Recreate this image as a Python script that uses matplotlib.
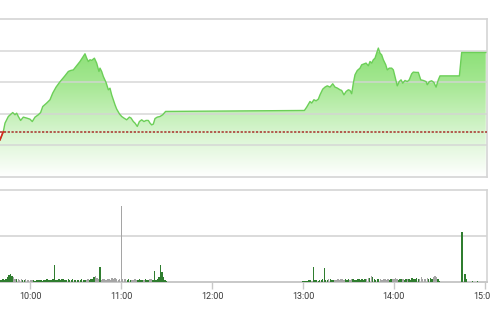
import numpy as np
import matplotlib
matplotlib.use("Agg")
import matplotlib.pyplot as plt
from matplotlib.colors import LinearSegmentedColormap

# index line, time in minutes after 09:00
price_min = [40.0, 42.2, 43.3, 45.5, 48.4, 49.9, 51.0, 52.1, 53.6, 55.4, 57.6, 59.8,
             61.3, 63.1, 65.3, 66.8, 68.2, 70.8, 73.0, 74.8, 77.0, 79.2, 80.7, 82.9,
             85.1, 86.6, 88.4, 90.6, 92.8, 95.0, 96.1, 97.2, 98.3, 99.4, 100.5, 102.3,
             103.8, 105.3, 106.0, 107.1, 108.2, 110.0, 111.5, 112.6, 113.7, 114.8, 115.9,
             117.0, 118.8, 120.3, 121.8, 123.6, 125.4, 126.5, 128.0, 129.1, 130.6, 132.0,
             133.5, 135.0, 136.4, 137.9, 139.0, 140.1, 141.2, 142.3, 143.8, 145.6, 147.4,
             149.3, 150.0,
             240.9, 242.4, 244.6, 245.7, 247.2, 248.6, 250.1, 251.2, 253.0, 254.5, 256.0,
             257.8, 259.6, 261.1, 262.6, 264.4, 265.5, 267.0, 268.4, 269.9, 271.0, 272.1,
             273.2, 274.3, 275.8, 277.6, 278.7, 280.2, 281.6, 283.1, 284.2, 285.3, 286.4,
             287.5, 288.6, 289.7, 290.8, 291.9, 293.0, 294.6, 295.6, 296.9, 298.5, 299.6,
             300.7, 302.2, 303.5, 304.7, 305.8, 307.3, 308.8, 310.1, 311.7, 312.8, 314.6,
             316.1, 317.7, 319.4, 321.2, 322.0, 323.4, 324.9, 326.4, 327.8, 329.3, 330.4,
             343.2, 344.7, 360.6]
price_val = [938.35, 938.88, 939.41, 939.83, 940.08, 939.94, 940.04, 939.83, 939.58, 939.79,
             939.73, 939.66, 939.51, 939.79, 939.94, 940.08, 940.46, 940.68, 940.89, 941.31,
             941.69, 941.98, 942.15, 942.41, 942.68, 942.74, 942.78, 943.04, 943.31, 943.63,
             943.80, 943.52, 943.31, 943.42, 943.38, 943.52, 943.21, 942.68, 942.89, 942.68,
             942.36, 941.98, 941.52, 941.62, 941.20, 940.89, 940.57, 940.30, 940.00, 939.83,
             939.73, 939.62, 939.79, 939.73, 939.51, 939.41, 939.20, 939.51, 939.62, 939.51,
             939.58, 939.58, 939.41, 939.30, 939.35, 939.70, 939.79, 939.83, 939.94, 940.15,
             940.15,
             940.21, 940.42, 940.78, 940.68, 940.89, 940.82, 940.93, 941.20, 941.56, 941.69,
             941.77, 941.69, 941.90, 941.69, 941.63, 941.52, 941.48, 941.20, 941.41, 941.52,
             941.48, 941.27, 941.94, 942.47, 942.74, 942.89, 943.10, 943.16, 943.21, 943.04,
             943.31, 943.21, 943.42, 943.52, 943.84, 944.16, 943.84, 943.73, 943.42, 943.10,
             942.78, 942.89, 942.89, 942.78, 942.36, 941.77, 942.04, 942.15, 941.94, 942.11,
             942.04, 942.15, 942.53, 942.64, 942.62, 942.62, 942.15, 942.11, 942.04, 941.84,
             942.04, 942.09, 941.98, 941.69, 942.15, 942.40,
             942.40, 943.88, 943.88]
ref_price = 938.86

# volume bars, one per minute
vol_min = list(range(40, 151)) + list(range(240, 331)) + [345, 347, 348, 352, 355]
vol_val = [0.08, 0.10, 0.12, 0.10, 0.15, 0.22, 0.30, 0.35, 0.28, 0.20,
           0.15, 0.12, 0.14, 0.10, 0.12, 0.08, 0.10, 0.12, 0.09, 0.10,
           0.07, 0.08, 0.10, 0.06, 0.08, 0.07, 0.09, 0.08, 0.06, 0.10,
           0.08, 0.12, 0.10, 0.08, 0.10, 0.15, 0.74, 0.10, 0.08, 0.12,
           0.10, 0.14, 0.12, 0.10, 0.09, 0.12, 0.10, 0.08, 0.11, 0.09,
           0.08, 0.10, 0.07, 0.09, 0.12, 0.10, 0.08, 0.10, 0.12, 0.10,
           0.14, 0.12, 0.20, 0.25, 0.18, 0.12, 0.66, 0.10, 0.14, 0.12,
           0.10, 0.15, 0.12, 0.10, 0.16, 0.12, 0.18, 0.14, 0.10, 0.12,
           3.30, 0.15, 0.12, 0.14, 0.10, 0.12, 0.08, 0.10, 0.09, 0.12,
           0.10, 0.08, 0.12, 0.10, 0.09, 0.10, 0.12, 0.08, 0.10, 0.14,
           0.12, 0.10, 0.48, 0.10, 0.12, 0.20, 0.74, 0.43, 0.20, 0.10, 0.05,
           0.04, 0.05, 0.06, 0.05, 0.08, 0.10, 0.06, 0.66, 0.08, 0.07,
           0.06, 0.08, 0.10, 0.12, 0.60, 0.08, 0.10, 0.15, 0.12, 0.10,
           0.09, 0.10, 0.08, 0.12, 0.10, 0.15, 0.12, 0.10, 0.14, 0.10,
           0.12, 0.10, 0.14, 0.12, 0.10, 0.08, 0.12, 0.15, 0.10, 0.12,
           0.10, 0.14, 0.12, 0.16, 0.18, 0.26, 0.20, 0.12, 0.10, 0.14,
           0.12, 0.15, 0.10, 0.12, 0.14, 0.10, 0.12, 0.10, 0.14, 0.12,
           0.15, 0.18, 0.12, 0.10, 0.14, 0.12, 0.15, 0.10, 0.12, 0.14,
           0.12, 0.10, 0.16, 0.12, 0.14, 0.18, 0.12, 0.15, 0.20, 0.14,
           0.12, 0.15, 0.18, 0.14, 0.16, 0.12, 0.20, 0.24, 0.22, 0.14, 0.05,
           2.17, 0.35, 0.12, 0.05, 0.05]

tick_labels = ["10:00", "11:00", "12:00", "13:00", "14:00", "15:00"]
tick_pos = [(int(t[:2]) - 9) * 60 + int(t[3:]) for t in tick_labels]

W, H = 490, 327
fig = plt.figure(figsize=(W / 100, H / 100), dpi=100)
x0, x1 = 40, 40 + 486.7 * 0.66
grid_c = "#d4d4d4"

# ---- price panel ----
ax = fig.add_axes([0, 1 - 177 / H, 486.7 / W, 158 / H])
ylo, yhi = 936, 946
pm = np.array(price_min)
pv = np.array(price_val)

poly = ax.fill_between(pm, pv, ylo, facecolor="none", edgecolor="none")
cmap = LinearSegmentedColormap.from_list(
    "g", [(0, "#ffffff"), (0.3, "#d4f4cb"), (0.6, "#a4e791"), (1, "#74d95e")])
grad = np.linspace(0, 1, 256).reshape(-1, 1)
im = ax.imshow(grad, cmap=cmap, aspect="auto", origin="lower",
               extent=[x0, x1, ylo, yhi], zorder=1)
im.set_clip_path(poly.get_paths()[0], transform=ax.transData)

for g in [938, 940, 942, 944]:
    ax.axhline(g, color=grid_c, lw=1.2, alpha=0.85, zorder=2)

ax.plot(pm, pv, color="#6ccf58", lw=1.0, zorder=3)
# part below reference in red
for i in range(len(pm) - 1):
    a, b = pv[i], pv[i + 1]
    if a < ref_price or b < ref_price:
        if a < ref_price and b < ref_price:
            xs, ys = [pm[i], pm[i + 1]], [a, b]
        else:
            xc = pm[i] + (ref_price - a) / (b - a) * (pm[i + 1] - pm[i])
            xs, ys = ([pm[i], xc], [a, ref_price]) if a < ref_price else ([xc, pm[i + 1]], [ref_price, b])
        ax.plot(xs, ys, color="#d9241c", lw=1.2, zorder=4)

ax.axhline(ref_price, color="#a8302a", lw=1.1, ls=(0, (1.5, 1)), zorder=3)

ax.set_xlim(x0, x1)
ax.set_ylim(ylo, yhi)
ax.set_xticks([])
ax.set_yticks([])
ax.spines["left"].set_visible(False)
for s in ["top", "right", "bottom"]:
    ax.spines[s].set_color(grid_c)
    ax.spines[s].set_linewidth(1.2)

# ---- volume panel ----
bx = fig.add_axes([0, 1 - 282 / H, 486.7 / W, 92 / H])
prev = np.interp(np.array(vol_min) - 1, pm, pv)
cur = np.interp(np.array(vol_min), pm, pv)
cols = ["#2f7d2f" if c >= p - 0.02 else "#a5a5a5" for c, p in zip(cur, prev)]
bx.bar(vol_min, vol_val, width=0.9, color=cols, zorder=3)
bx.axhline(2, color=grid_c, lw=1.2, zorder=1)
bx.set_xlim(x0, x1)
bx.set_ylim(0, 4)
bx.set_yticks([])
bx.set_xticks(tick_pos)
bx.set_xticklabels(tick_labels, fontfamily="Roboto", fontsize=6.5, color="#3a3a3a")
bx.tick_params(axis="x", length=5, width=1, color="#c8c8c8", pad=2)
bx.spines["left"].set_visible(False)
for s in ["top", "right"]:
    bx.spines[s].set_color(grid_c)
    bx.spines[s].set_linewidth(1.2)
bx.spines["bottom"].set_color("#c8c8c8")
bx.spines["bottom"].set_linewidth(1.4)

fig.savefig("out.png", dpi=100)
